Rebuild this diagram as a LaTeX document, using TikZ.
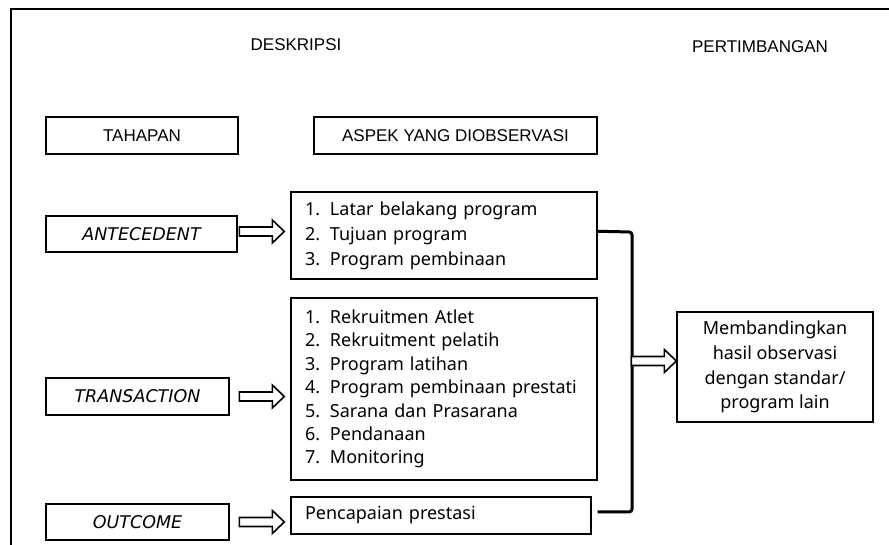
\documentclass[tikz,border=0pt]{standalone}
\usepackage{fontspec}
\setmainfont{Noto Sans}
\newfontfamily\headfont{Liberation Sans}
\newfontfamily\lblfont{DejaVu Sans}
\usetikzlibrary{calc}
\tikzset{
  box/.style={draw, line width=1.4pt, inner sep=0pt, minimum height=#1},
  box/.default=37pt,
  hdr/.style={font=\headfont\fontsize{17}{20}\selectfont, inner sep=0pt, anchor=base},
  lbl/.style={font=\lblfont\fontsize{17.5}{22}\selectfont\itshape},
  listbox/.style={draw, line width=1.4pt, inner xsep=14pt, inner ysep=0pt, align=left},
  hollow/.style={draw, line width=1.6pt, fill=white, line join=miter},
  bracketline/.style={line width=3pt, rounded corners=3pt}
}
\newcommand\hollowarrow[3]{%
  \draw[hollow] let \p1=(#2), \p2=(#3) in
   (\x2-#1-45pt,\y1+4.5pt) -- (\x2-#1-12pt,\y1+4.5pt) -- (\x2-#1-12pt,\y1+11.5pt)
   -- (\x2-#1,\y1) -- (\x2-#1-12pt,\y1-11.5pt) -- (\x2-#1-12pt,\y1-4.5pt)
   -- (\x2-#1-45pt,\y1-4.5pt) -- cycle;}
\newcommand\itm[1]{\makebox[25pt][l]{#1}}
\begin{document}
\begin{tikzpicture}[x=1pt,y=1pt]
\useasboundingbox (0,0) rectangle (889,545);
% frame
\draw[line width=2.2pt] (11,-5) -- (11,536) -- (895,536);
% headers
\node[hdr] (desk) at (296,494) {DESKRIPSI};
\node[hdr] (pert) at (760,492) {PERTIMBANGAN};
\node[box, minimum width=192pt, font=\headfont\fontsize{17}{20}\selectfont] (tah) at (142,409.5) {TAHAPAN};
\node[box, minimum width=283pt, font=\headfont\fontsize{17}{20}\selectfont] (asp) at (455.5,409.5) {ASPEK YANG DIOBSERVASI};
% stage boxes
\node[box=36pt, minimum width=191pt, lbl] (ante) at (141.5,311) {ANTECEDENT};
\node[box=37pt, minimum width=183pt, lbl] (trans) at (137.5,148.5) {TRANSACTION};
\node[box=36pt, minimum width=183pt, lbl] (outc) at (137.5,23) {OUTCOME};
% list boxes
\node[listbox, minimum width=306pt, minimum height=87pt, text width=278pt,
      font=\fontsize{18}{25}\selectfont] (b1) at (444,309.5)
  {\itm{1.}Latar belakang program\\ \itm{2.}Tujuan program\\ \itm{3.}Program pembinaan};
\node[listbox, minimum width=306pt, minimum height=182pt, text width=278pt,
      font=\fontsize{18}{23.4}\selectfont] (b2) at (444,156)
  {\itm{1.}Rekruitmen Atlet\\ \itm{2.}Rekruitment pelatih\\ \itm{3.}Program latihan\\
   \itm{4.}Program pembinaan prestati\\ \itm{5.}Sarana dan Prasarana\\ \itm{6.}Pendanaan\\
   \itm{7.}Monitoring};
\node[listbox, minimum width=300pt, minimum height=37pt, text width=272pt,
      font=\fontsize{18}{22}\selectfont] (b3) at (441,29.5) {Pencapaian prestasi};
% judgement box
\node[draw, line width=1.4pt, minimum width=196pt, minimum height=110pt, align=center,
      font=\fontsize{18}{24.7}\selectfont] (memb) at (775,178)
  {Membandingkan\\ hasil observasi\\ dengan standar/\\ program lain};
% arrows
\hollowarrow{6pt}{$(ante)+(0,2.5)$}{b1.west}
\hollowarrow{6pt}{trans}{b2.west}
\hollowarrow{6pt}{outc}{b3.west}
% bracket
\coordinate (bt) at ($(b1.north east)+(0,-40)$);
\coordinate (bb) at ($(b3.east)+(6,3.5)$);
\draw[bracketline] (bt) -- (632,313) -- (632,33) -- (bb);
\coordinate (bmid) at (632,184);
\hollowarrow{0pt}{bmid}{memb.west}
\end{tikzpicture}
\end{document}
